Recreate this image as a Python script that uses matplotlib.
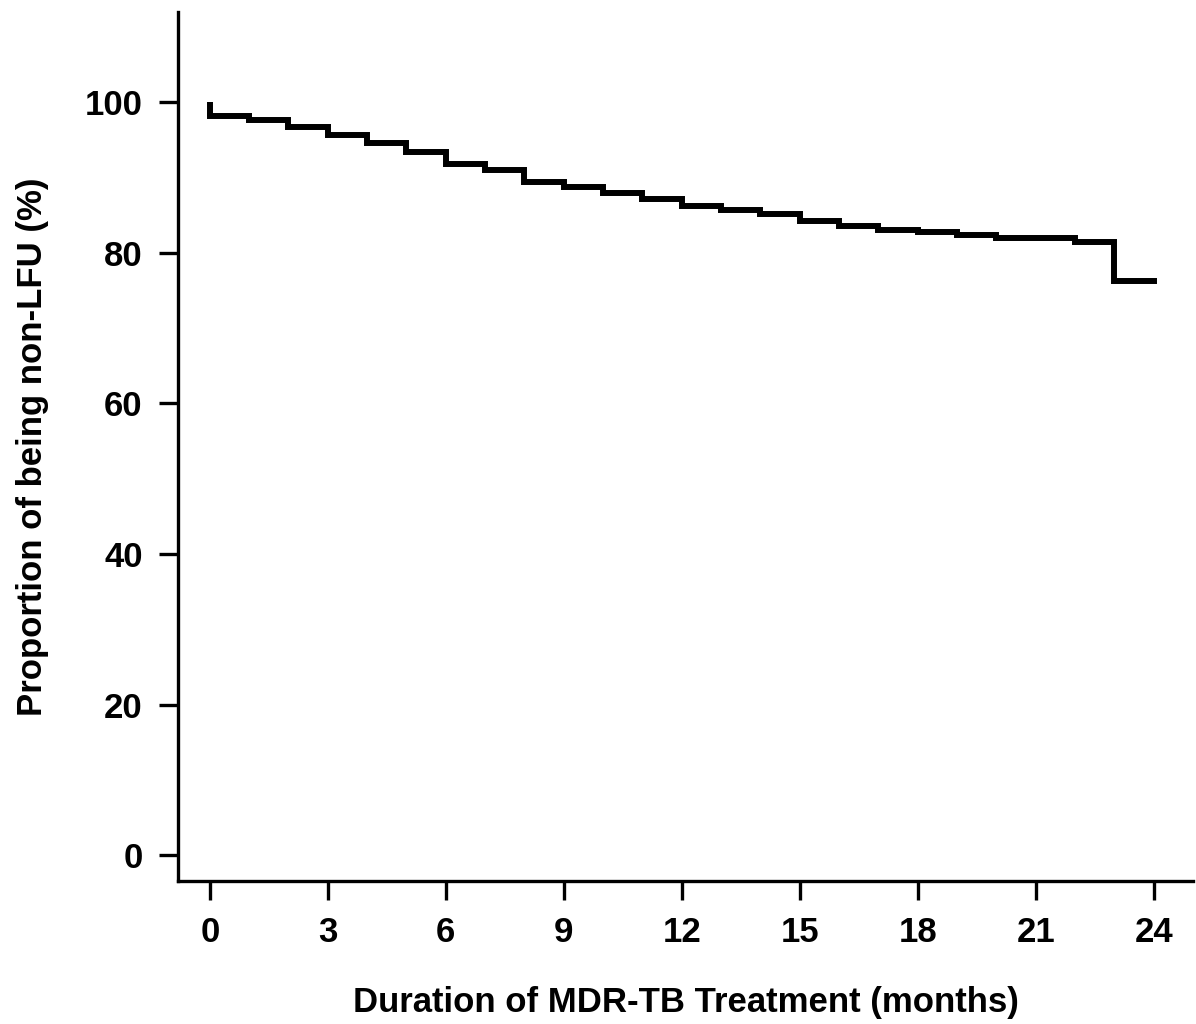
import matplotlib
matplotlib.use("Agg")
import matplotlib.pyplot as plt

# Kaplan-Meier style step curve
months = [0, 1, 2, 3, 4, 5, 6, 7, 8, 9, 10, 11, 12, 13, 14, 15, 16, 17, 18, 19, 20, 22, 23, 24]
non_lfu = [98.2, 97.6, 96.7, 95.7, 94.6, 93.4, 91.8, 91.0, 89.4, 88.7, 87.9, 87.2,
           86.2, 85.7, 85.1, 84.2, 83.6, 83.1, 82.8, 82.4, 82.0, 81.5, 76.3, 76.3]
x_ticks = [0, 3, 6, 9, 12, 15, 18, 21, 24]
y_ticks = [0, 20, 40, 60, 80, 100]

plt.rcParams['font.family'] = ['Liberation Sans', 'DejaVu Sans']
plt.rcParams['font.weight'] = 'bold'

fig = plt.figure(figsize=(11.96, 10.24), dpi=100)
ax = fig.add_axes([0.1488, 0.1396, 0.8487, 0.8487])

# start at 100% then drop
ax.plot([months[0], months[0]], [100, non_lfu[0]], color='black', lw=4.3, solid_capstyle='butt')
ax.step(months, non_lfu, where='post', color='black', lw=4.3, solid_joinstyle='miter')

ax.set_xlim(-0.81, 25.0)
ax.set_ylim(-3.45, 112)
ax.set_xticks(x_ticks)
ax.set_yticks(y_ticks)

for s in ['top', 'right']:
    ax.spines[s].set_visible(False)
for s in ['left', 'bottom']:
    ax.spines[s].set_linewidth(2.4)

ax.tick_params(direction='out', length=13.5, width=2.4, labelsize=25, pad=12)
for lab in ax.get_xticklabels() + ax.get_yticklabels():
    lab.set_fontweight('bold')

ax.set_xlabel('Duration of MDR-TB Treatment (months)', fontsize=25, fontweight='bold', labelpad=26)
ax.set_ylabel('Proportion of being non-LFU (%)', fontsize=25, fontweight='bold', labelpad=26)

fig.savefig('out.png', dpi=100)
